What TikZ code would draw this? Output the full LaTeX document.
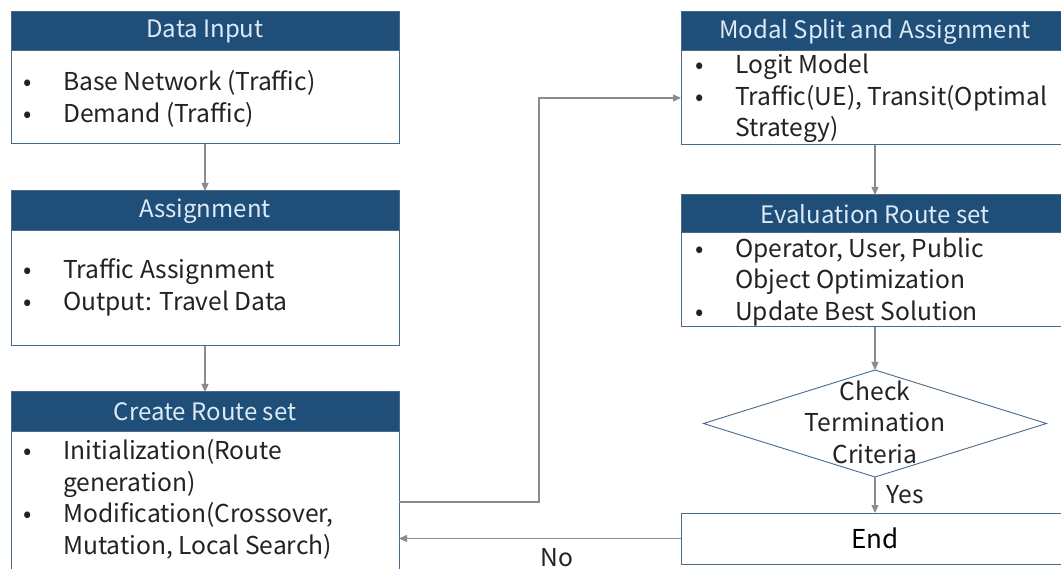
\documentclass[tikz,border=0pt]{standalone}
\usepackage{fontspec}
\setmainfont{Noto Sans CJK KR}
\usetikzlibrary{shapes.geometric,arrows.meta}
\definecolor{hdrblue}{HTML}{1F4E79}
\definecolor{hdrtext}{HTML}{DDEBF7}
\definecolor{boxline}{HTML}{4A6A8A}
\definecolor{arrowgray}{HTML}{8C8C8C}
\definecolor{bodytext}{HTML}{222222}
\newcommand\bodyfont{\fontsize{24.6}{31.5}\selectfont}
\newcommand\headfont{\fontsize{24}{28}\selectfont}
\newcommand\bl{\makebox[40pt][l]{\textbullet}}
\newcommand\ind{\hspace*{40pt}}
\tikzset{
  hdr/.style={draw=boxline, fill=hdrblue, text=hdrtext, minimum width=388pt,
    inner sep=0pt, outer sep=0pt, font=\headfont, line width=1pt},
  bodybox/.style={draw=boxline, fill=white, minimum width=388pt,
    inner sep=0pt, outer sep=0pt, line width=1pt, anchor=north},
  items/.style={anchor=west, align=left, font=\bodyfont, inner sep=0pt, text=bodytext},
  flow/.style={draw=arrowgray, line width=1.3pt, -{Triangle[length=8pt,width=7pt]}},
  lbl/.style={font=\bodyfont, text=bodytext, inner sep=0pt}
}
\begin{document}
\begin{tikzpicture}[x=1pt,y=-1pt]
\clip (0,0) rectangle (1061,569);
\fill[white] (0,0) rectangle (1061,569);

% left column
\node[hdr, minimum height=39pt] (dhead) at (205,31.5) {Data Input};
\node[bodybox, minimum height=93pt] (dbody) at (dhead.south) {};
\node[items] (dtxt) at (23,99) {\bl Base Network (Traffic)\\ \bl Demand (Traffic)};

\node[hdr, minimum height=40pt] (ahead) at (205,211) {Assignment};
\node[bodybox, minimum height=115pt] (abody) at (ahead.south) {};
\node[items] (atxt) at (23,287.5) {\bl Traffic Assignment\\ \bl Output: Travel Data};

\node[hdr, minimum height=40pt] (chead) at (205,412) {Create Route set};
\node[bodybox, minimum height=168pt] (cbody) at (chead.south) {};
\node[items] (ctxt) at (23,499.5) {\bl Initialization(Route\\ \ind generation)\\
  \bl Modification(Crossover,\\ \ind Mutation, Local Search)};

% right column
\node[hdr, minimum height=39pt] (mhead) at (875,31.5) {Modal Split and Assignment};
\node[bodybox, minimum height=94pt] (mbody) at (mhead.south) {};
\node[items] (mtxt) at (695,98.5) {\bl Logit Model\\ \bl Traffic(UE), Transit(Optimal\\ \ind Strategy)};

\node[hdr, minimum height=38pt] (ehead) at (875,214) {Evaluation Route set};
\node[bodybox, minimum height=94pt] (ebody) at (ehead.south) {};
\node[items] (etxt) at (695,282) {\bl Operator, User, Public\\ \ind Object Optimization\\ \bl Update Best Solution};

\node[diamond, draw=boxline, line width=0.9pt, fill=white, minimum width=343pt,
  minimum height=107pt, inner sep=0pt, outer sep=0pt] (check) at (875,423.5) {};
\node[lbl, align=center] (checktxt) at (875,422) {Check\\ Termination\\ Criteria};

\node[draw=boxline, fill=white, line width=1pt, minimum width=388pt, minimum height=51pt,
  inner sep=0pt, outer sep=0pt, font=\fontsize{26}{30}\selectfont, text=black] (end) at (875,538.5) {End};

% connectors
\draw[flow] (dbody.south) -- (ahead.north);
\draw[flow] (abody.south) -- (chead.north);
\draw[flow] (mbody.south) -- (ehead.north);
\draw[flow] (ebody.south) -- (check.north);
\draw[flow] (check.south) -- (end.north);
\draw[flow] ([yshift=-70pt]cbody.north east) -- ++(140,0) |- ([yshift=-47pt]mbody.north west);
\draw[flow] (end.west) -- (end.west -| cbody.east);

\node[lbl] (yes) at (905,495) {Yes};
\node[lbl] (no) at (557,558) {No};
\end{tikzpicture}
\end{document}
